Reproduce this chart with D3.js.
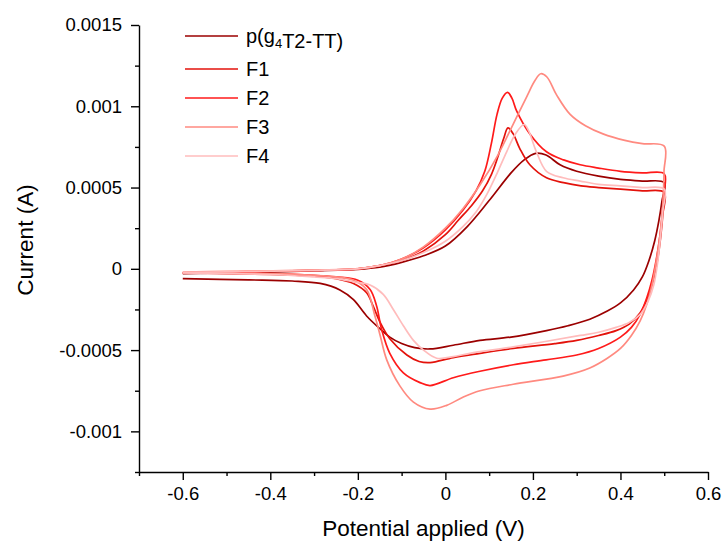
<!DOCTYPE html>
<html>
<head>
<meta charset="utf-8">
<script src="https://cdn.jsdelivr.net/npm/d3@7"></script>
<style>
  html, body { margin: 0; padding: 0; background: #fff; }
  svg text { font-family: "Liberation Sans", Arial, Helvetica, sans-serif; fill: #000; }
</style>
</head>
<body>
<svg id="chart" width="725" height="543"></svg>
<script>
// Cyclic voltammograms: each loop runs forward from -0.6 V to 0.5 V, then back to -0.6 V.
// Points are [potential (V), current (A)] in scan order.
const seriesLabels = ["p(g_4T2-TT)", "F1", "F2", "F3", "F4"];
const seriesColors = ["#9b0000", "#e3120b", "#ff1a1a", "#ff8a80", "#ffbcbc"];

const scanP = [
  [-0.6,-0.00003],[-0.5,-0.000025],[-0.4,-0.00002],[-0.3,-0.000012],[-0.2,-0.000003],[-0.15,0.00001],
  [-0.1,0.00004],[-0.05,0.00008],[0,0.00014],[0.05,0.00026],[0.1,0.00042],[0.15,0.00059],[0.18,0.00067],
  [0.206,0.00071],[0.23,0.0007],[0.262,0.00064],[0.3,0.0006],[0.35,0.00057],[0.4,0.00055],[0.45,0.00054],
  [0.5,0.00053],
  [0.495,0.00042],[0.488,0.0003],[0.478,0.00017],[0.465,0.00005],[0.45,-0.00005],[0.43,-0.00013],
  [0.4,-0.00021],[0.37,-0.00026],[0.33,-0.00031],[0.28,-0.00035],[0.231,-0.00038],[0.15,-0.00042],
  [0.079,-0.00044],[0.018,-0.00047],[-0.035,-0.000493],[-0.07,-0.000485],[-0.1,-0.00046],[-0.127,-0.00042],
  [-0.149,-0.00037],[-0.18,-0.00029],[-0.21,-0.00019],[-0.241,-0.00013],[-0.286,-0.00009],[-0.35,-0.000075],
  [-0.45,-0.000068],[-0.6,-0.00006]
];

const scanF1 = [
  [-0.6,-0.000025],[-0.5,-0.00002],[-0.4,-0.000015],[-0.3,-0.00001],[-0.2,0],[-0.15,0.00002],[-0.1,0.00005],
  [-0.05,0.00011],[0,0.00021],[0.03,0.0003],[0.06,0.00039],[0.085,0.00048],[0.105,0.00058],[0.12,0.00069],
  [0.133,0.0008],[0.143,0.000867],[0.155,0.00083],[0.17,0.00074],[0.193,0.00064],[0.231,0.00056],
  [0.27,0.00053],[0.31,0.00051],[0.35,0.0005],[0.4,0.00049],[0.45,0.00048],[0.5,0.00047],
  [0.497,0.00034],[0.492,0.0002],[0.485,0.00006],[0.475,-0.00007],[0.462,-0.00018],[0.445,-0.00027],
  [0.42,-0.00034],[0.39,-0.00038],[0.35,-0.00041],[0.3,-0.00044],[0.25,-0.00046],[0.155,-0.00049],
  [0.079,-0.00052],[0.018,-0.000546],[-0.035,-0.000577],[-0.06,-0.00057],[-0.088,-0.00053],[-0.127,-0.00043],
  [-0.149,-0.00033],[-0.165,-0.00023],[-0.18,-0.000147],[-0.21,-0.00009],[-0.25,-0.00006],[-0.3,-0.000045],
  [-0.4,-0.000035],[-0.6,-0.000025]
];

const scanF2 = [
  [-0.6,-0.000025],[-0.5,-0.00002],[-0.4,-0.000015],[-0.3,-0.00001],[-0.2,0],[-0.15,0.00002],[-0.1,0.00006],
  [-0.05,0.00013],[0,0.00024],[0.04,0.00036],[0.07,0.00048],[0.09,0.0006],[0.105,0.00077],[0.118,0.00095],
  [0.13,0.00105],[0.142,0.001086],[0.152,0.00105],[0.163,0.00097],[0.193,0.00083],[0.231,0.00072],
  [0.27,0.00067],[0.308,0.00064],[0.35,0.00062],[0.4,0.0006],[0.45,0.00059],[0.5,0.000585],
  [0.4985,0.00045],[0.495,0.00032],[0.49,0.0002],[0.482,0.00006],[0.472,-0.00007],[0.46,-0.00018],
  [0.445,-0.00028],[0.425,-0.00036],[0.4,-0.00042],[0.35,-0.00049],[0.3,-0.00053],[0.23,-0.00056],
  [0.155,-0.00059],[0.079,-0.00063],[0.018,-0.00067],[-0.035,-0.000718],[-0.058,-0.0007],[-0.096,-0.00064],
  [-0.127,-0.00052],[-0.146,-0.00037],[-0.157,-0.00023],[-0.172,-0.000127],[-0.2,-0.00007],[-0.25,-0.00005],
  [-0.3,-0.00004],[-0.4,-0.00003],[-0.6,-0.000025]
];

const scanF3 = [
  [-0.6,-0.00002],[-0.5,-0.000016],[-0.4,-0.000012],[-0.3,-0.000008],[-0.2,0.000002],[-0.15,0.00002],
  [-0.1,0.00006],[-0.05,0.000135],[0,0.00025],[0.04,0.00037],[0.08,0.00052],[0.12,0.0007],[0.155,0.00089],
  [0.186,0.00106],[0.205,0.00116],[0.218,0.0012],[0.232,0.00118],[0.254,0.00107],[0.285,0.00095],
  [0.32,0.00088],[0.36,0.00083],[0.41,0.00079],[0.45,0.00077],[0.5,0.000755],
  [0.4995,0.0006],[0.498,0.00046],[0.495,0.00033],[0.49,0.0002],[0.482,0.00005],[0.472,-0.0001],
  [0.46,-0.00022],[0.445,-0.00032],[0.425,-0.00041],[0.4,-0.00049],[0.37,-0.00055],[0.33,-0.00061],
  [0.269,-0.00066],[0.155,-0.00071],[0.079,-0.00075],[0.04,-0.00079],[0.003,-0.00084],[-0.035,-0.000863],
  [-0.073,-0.00082],[-0.104,-0.00072],[-0.134,-0.00056],[-0.149,-0.00041],[-0.161,-0.00029],[-0.18,-0.000127],
  [-0.21,-0.00007],[-0.25,-0.00005],[-0.3,-0.00004],[-0.4,-0.00003],[-0.6,-0.000025]
];

const scanF4 = [
  [-0.6,-0.000022],[-0.5,-0.000018],[-0.4,-0.000014],[-0.3,-0.00001],[-0.2,0],[-0.15,0.00002],[-0.1,0.00005],
  [-0.05,0.0001],[0,0.00017],[0.04,0.00026],[0.07,0.00035],[0.095,0.00046],[0.12,0.0006],[0.14,0.00072],
  [0.16,0.00083],[0.18,0.000888],[0.19,0.00085],[0.208,0.00072],[0.231,0.0006],[0.269,0.00056],
  [0.308,0.00054],[0.35,0.00052],[0.4,0.00051],[0.45,0.0005],[0.5,0.00049],
  [0.497,0.00036],[0.492,0.00021],[0.485,0.00004],[0.476,-0.0001],[0.463,-0.0002],[0.445,-0.00028],
  [0.42,-0.00033],[0.39,-0.00036],[0.35,-0.00039],[0.308,-0.00041],[0.155,-0.00048],[0.056,-0.00052],
  [0.018,-0.00054],[-0.02,-0.00055],[-0.05,-0.0005],[-0.073,-0.00044],[-0.096,-0.00035],[-0.119,-0.00025],
  [-0.142,-0.000157],[-0.172,-0.0001],[-0.21,-0.00008],[-0.25,-0.00006],[-0.3,-0.00005],[-0.4,-0.000035],
  [-0.6,-0.000025]
];

const seriesScans = [scanP, scanF1, scanF2, scanF3, scanF4];

const potentialTicks = [-0.6, -0.4, -0.2, 0, 0.2, 0.4, 0.6];
const potentialMinorTicks = [-0.7, -0.5, -0.3, -0.1, 0.1, 0.3, 0.5];
const currentTicks = [-0.001, -0.0005, 0, 0.0005, 0.001, 0.0015];
const currentMinorTicks = [-0.00125, -0.00075, -0.00025, 0.00025, 0.00075, 0.00125];

const potentialDomain = [-0.7, 0.6];
const currentDomain = [-0.00125, 0.0015];

// ---- layout ----
const svg = d3.select("#chart");
const plot = { left: 139, right: 708, top: 25, bottom: 472 };

const x = d3.scaleLinear().domain(potentialDomain).range([plot.left, plot.right]);
const y = d3.scaleLinear().domain(currentDomain).range([plot.bottom, plot.top]);

// ---- curves ----
const line = d3.line()
  .x(d => x(d[0]))
  .y(d => y(d[1]))
  .curve(d3.curveCatmullRom.alpha(0.5));

svg.append("g")
  .selectAll("path")
  .data(seriesScans)
  .join("path")
  .attr("d", line)
  .attr("fill", "none")
  .attr("stroke", (d, i) => seriesColors[i])
  .attr("stroke-width", 1.7)
  .attr("stroke-linejoin", "round");

// ---- axes ----
function styleAxis(g) {
  g.select(".domain").attr("stroke", "#000").attr("stroke-width", 1.4);
  g.selectAll(".tick line").attr("stroke", "#000").attr("stroke-width", 1.4);
}

const xAxis = svg.append("g")
  .attr("transform", `translate(0,${plot.bottom})`)
  .call(d3.axisBottom(x).tickValues(potentialTicks).tickSize(8).tickSizeOuter(0)
        .tickPadding(7).tickFormat(d => String(d)));
xAxis.call(styleAxis);
xAxis.selectAll("text").attr("font-size", 18.5).attr("font-family", "Liberation Sans, Arial, sans-serif");

svg.append("g")
  .attr("transform", `translate(0,${plot.bottom})`)
  .call(d3.axisBottom(x).tickValues(potentialMinorTicks).tickSize(4).tickSizeOuter(0).tickFormat(""))
  .call(g => g.select(".domain").remove())
  .call(g => g.selectAll(".tick line").attr("stroke", "#000").attr("stroke-width", 1.4));

const yAxis = svg.append("g")
  .attr("transform", `translate(${plot.left},0)`)
  .call(d3.axisLeft(y).tickValues(currentTicks).tickSize(8).tickSizeOuter(0)
        .tickPadding(9).tickFormat(d => String(d)));
yAxis.call(styleAxis);
yAxis.selectAll("text").attr("font-size", 18.5).attr("font-family", "Liberation Sans, Arial, sans-serif");

svg.append("g")
  .attr("transform", `translate(${plot.left},0)`)
  .call(d3.axisLeft(y).tickValues(currentMinorTicks).tickSize(4).tickSizeOuter(0).tickFormat(""))
  .call(g => g.select(".domain").remove())
  .call(g => g.selectAll(".tick line").attr("stroke", "#000").attr("stroke-width", 1.4));

// ---- axis titles ----
svg.append("text")
  .attr("x", (plot.left + plot.right) / 2)
  .attr("y", 536)
  .attr("text-anchor", "middle")
  .attr("font-size", 22.5)
  .text("Potential applied (V)");

svg.append("text")
  .attr("transform", `translate(33,240) rotate(-90)`)
  .attr("text-anchor", "middle")
  .attr("font-size", 22.5)
  .text("Current (A)");

// ---- legend ----
const legendRowY = [36, 69, 98, 127, 156];
const legend = svg.append("g");
seriesLabels.forEach((label, i) => {
  const yy = legendRowY[i];
  legend.append("line")
    .attr("x1", 185).attr("x2", 238)
    .attr("y1", yy).attr("y2", yy)
    .attr("stroke", seriesColors[i])
    .attr("stroke-width", 1.7);
  const t = legend.append("text")
    .attr("x", 246)
    .attr("y", yy + 7)
    .attr("font-size", 20);
  // "_n" marks a subscript character
  const parts = label.split(/(_\w)/);
  parts.forEach(p => {
    if (p.startsWith("_")) {
      t.append("tspan").attr("font-size", 13).attr("dy", 5).text(p.slice(1));
      t.append("tspan").attr("dy", -5).text("");
    } else if (p.length) {
      t.append("tspan").text(p);
    }
  });
});
</script>
</body>
</html>
